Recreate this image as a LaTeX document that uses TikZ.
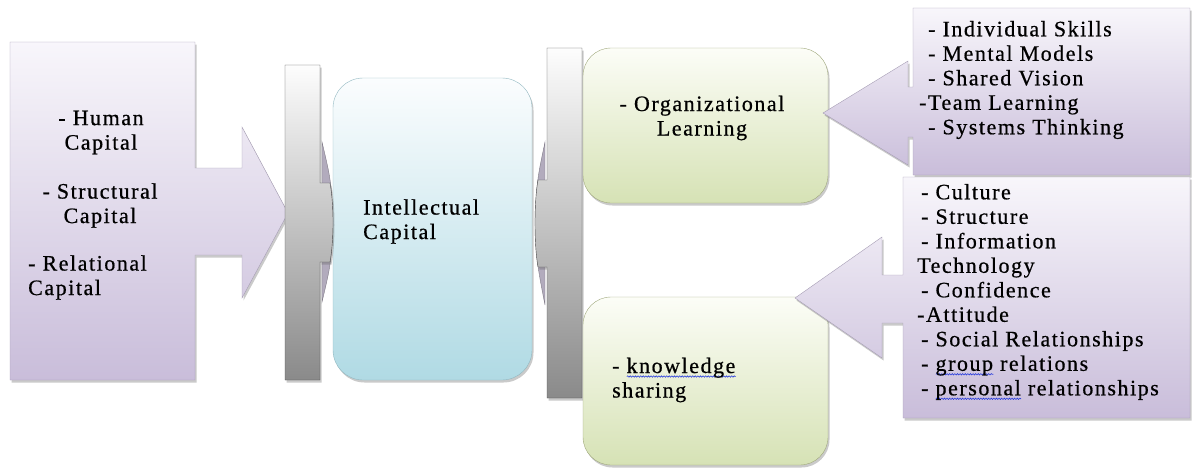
\documentclass[tikz,border=0pt]{standalone}
\usepackage{fontspec}
\setmainfont{Liberation Serif}
\newfontfamily\boxfont[LetterSpace=7, FakeBold=0.6]{Liberation Serif}
\usepackage{xcolor}
\usetikzlibrary{positioning}
\usetikzlibrary{shadows}
\usetikzlibrary{decorations.pathmorphing}

\definecolor{lila1}{RGB}{248, 246, 251}
\definecolor{lila2}{RGB}{201, 189, 218}
\definecolor{lilaline}{RGB}{166, 157, 180}
\definecolor{bar1}{RGB}{253, 253, 253}
\definecolor{bar2}{RGB}{138, 138, 138}
\definecolor{barline}{RGB}{78, 78, 78}
\definecolor{ic1}{RGB}{251, 253, 254}
\definecolor{ic2}{RGB}{176, 218, 228}
\definecolor{icline}{RGB}{146, 184, 193}
\definecolor{gr1}{RGB}{252, 253, 247}
\definecolor{gr2}{RGB}{214, 226, 181}
\definecolor{grline}{RGB}{160, 168, 125}
\definecolor{sliver}{RGB}{178, 171, 189}
\definecolor{spell}{RGB}{40, 60, 220}

% blue wavy mark under a word
\newsavebox\spellbox
\newlength\spellwd
\newcommand\spellmark[1]{%
	\sbox\spellbox{#1}\setlength\spellwd{\wd\spellbox}%
	\rlap{\tikz[baseline=0pt, x=1pt, y=1pt]\draw[spell, line width=0.6pt,
		decorate, decoration={snake, amplitude=0.7pt, segment length=2.6pt}] (0,-3.5) -- (\spellwd,-3.5);}%
	\usebox\spellbox}

\tikzset{
softshadow/.style={drop shadow={shadow xshift=1.5pt, shadow yshift=-2.5pt, opacity=0.35, fill=black!60}},
callout/.style={draw=lilaline, top color=lila1, bottom color=lila2, softshadow},
bar/.style={draw=barline, top color=bar1, bottom color=bar2, softshadow},
sliverpart/.style={draw=sliver!70!black, fill=sliver},
icbox/.style={draw=icline, top color=ic1, bottom color=ic2, rounded corners=30pt,
	minimum width=199pt, minimum height=302pt, softshadow},
grbox/.style={draw=grline, top color=gr1, bottom color=gr2, rounded corners=28pt,
	minimum width=245pt, softshadow},
}

\begin{document}
\begin{tikzpicture}[x=1pt, y=-1pt]
\tikzstyle{txt}=[font=\boxfont\fontsize{22}{24.5}\selectfont, inner sep=0pt]
\useasboundingbox (0,0) rectangle (1192,469);

%Capital sources
\draw[callout] (10,42) -- (195,42) -- (195,168) -- (242,168) -- (242,127) -- (288,213)
	-- (242,298) -- (242,255) -- (195,255) -- (195,380) -- (10,380) -- cycle;

%Centre box and the two bars
\node[icbox] (ic) at (432.5,229) {};

\draw[sliverpart] (322,142) .. controls (331,180) .. (333,222) .. controls (331,264) .. (322,302) -- cycle;
\draw[bar] (285,65) -- (320,65) -- (320,183) -- (330,183) .. controls (334,205) and (334,240) .. (330,262)
	-- (320,262) -- (320,380) -- (285,380) -- cycle;

\draw[sliverpart] (545,142) .. controls (537,180) .. (535,222) .. controls (537,264) .. (545,305) -- cycle;
\draw[bar] (547,48) -- (582,48) -- (582,398) -- (547,398) -- (547,267) -- (538,267)
	.. controls (534,245) and (534,202) .. (538,180) -- (547,180) -- cycle;

%Outcomes
\node[grbox, minimum height=155pt] (ol) at (705.5,125.5) {};
\node[grbox, minimum height=168pt] (ks) at (705.5,381) {};

%Factors
\draw[callout] (913,8) -- (1190,8) -- (1190,175) -- (913,175) -- (913,137) -- (908,137) -- (908,165)
	-- (823,113) -- (908,61) -- (908,87) -- (913,87) -- cycle;
\draw[callout] (903,177) -- (1190,177) -- (1190,418) -- (903,418) -- (903,323) -- (882,323) -- (882,358)
	-- (795,298) -- (882,237) -- (882,275) -- (903,275) -- cycle;

%Place the texts
\node[txt, align=center] (hc) at (101,132.5) {- Human\\Capital};
\node[txt, align=center] (sc) at (100,205.5) {- Structural\\Capital};
\node[txt, align=left, anchor=west] (rc) at (28,277.5) {- Relational\\Capital};

\node[txt, align=left, anchor=west] (ict) at (363,221.5) {Intellectual\\Capital};

\node[txt, align=center] (olt) at (702,118) {- Organizational\\Learning};
\node[txt, align=left, anchor=west] (kst) at (612,380) {- \spellmark{knowledge}\\sharing};

\node[txt, align=left, anchor=west] (olf) at (928,80) {- Individual Skills\\- Mental Models\\- Shared Vision\\\hspace*{-9pt}-Team Learning\\- Systems Thinking};
\node[txt, align=left, anchor=west] (ksf) at (921,292) {- Culture\\- Structure\\- Information\\\hspace*{-4pt}Technology\\- Confidence\\\hspace*{-4pt}-Attitude\\- Social Relationships\\- \spellmark{group} relations\\- \spellmark{personal} relationships};

\end{tikzpicture}
\end{document}
